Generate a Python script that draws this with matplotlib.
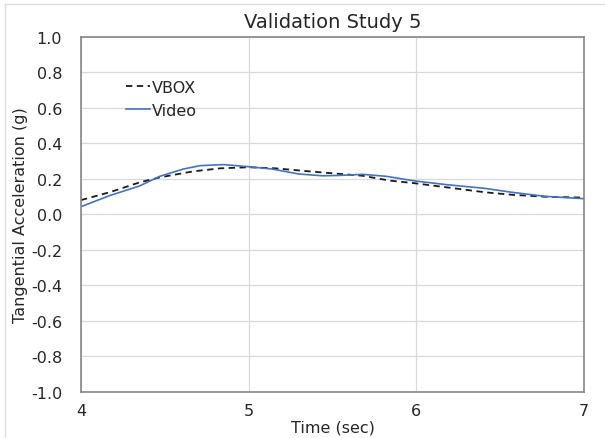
import matplotlib.pyplot as plt
from matplotlib.lines import Line2D

plt.rcParams["font.family"] = ["DejaVu Sans"]

# VBOX reference (dashed black)
vbox_t = [4.00, 4.17, 4.35, 4.47, 4.67, 4.83, 5.00, 5.16, 5.36, 5.54, 5.68, 5.84, 5.99, 6.18, 6.41, 6.57, 6.77, 7.00]
vbox_a = [0.080, 0.124, 0.180, 0.208, 0.242, 0.259, 0.265, 0.259, 0.242, 0.228, 0.217, 0.190, 0.175, 0.152, 0.124, 0.110, 0.099, 0.094]

# Video analysis (solid blue)
video_t = [4.00, 4.17, 4.35, 4.47, 4.61, 4.71, 4.85, 5.00, 5.14, 5.30, 5.44, 5.54, 5.68, 5.82, 5.99, 6.18, 6.41, 6.57, 6.77, 7.00]
video_a = [0.043, 0.105, 0.160, 0.214, 0.255, 0.274, 0.280, 0.268, 0.255, 0.227, 0.217, 0.219, 0.225, 0.214, 0.188, 0.167, 0.146, 0.124, 0.101, 0.088]

x_ticks = [4, 5, 6, 7]
y_ticks = [-1.0, -0.8, -0.6, -0.4, -0.2, 0.0, 0.2, 0.4, 0.6, 0.8, 1.0]

TEXT = "#262626"
GRID = "#D9D9D9"
SPINE = "#868686"

fig = plt.figure(figsize=(6.05, 4.39), dpi=100, facecolor="white")

# Chart area border: only top and left edges are visible (rest is cropped)
fig.add_artist(Line2D([5 / 605, 1.0], [1 - 5 / 439, 1 - 5 / 439], transform=fig.transFigure,
                      color="#DDDDDD", linewidth=1.0))
fig.add_artist(Line2D([5 / 605, 5 / 605], [0.0, 1 - 5 / 439], transform=fig.transFigure,
                      color="#DDDDDD", linewidth=1.0))

ax = fig.add_axes([81 / 605, 1 - 392.8 / 439, (584 - 81) / 605, (392.8 - 37.8) / 439])

ax.plot(vbox_t, vbox_a, color="#1a1a1a", linestyle=(0, (3.5, 2.5)), linewidth=1.3, label="VBOX")
ax.plot(video_t, video_a, color="#4472C4", linewidth=1.2, label="Video")

ax.set_xlim(4, 7)
ax.set_ylim(-1.0, 1.0)
ax.set_xticks(x_ticks)
ax.set_yticks(y_ticks)
ax.set_xticklabels([str(t) for t in x_ticks], fontsize=11.5, color=TEXT)
ax.set_yticklabels([f"{v:.1f}" for v in y_ticks], fontsize=11.5, color=TEXT)
ax.tick_params(axis="both", length=0)
ax.tick_params(axis="x", pad=8)
ax.tick_params(axis="y", pad=13.5)
ax.grid(True, color=GRID, linewidth=0.9)
ax.set_axisbelow(True)
for spine in ax.spines.values():
    spine.set_color(SPINE)
    spine.set_linewidth(1.2)

ax.set_title("Validation Study 5", fontsize=14, color=TEXT, pad=7)
ax.set_xlabel("Time (sec)", fontsize=11.5, color=TEXT, labelpad=1)
ax.set_ylabel("Tangential Acceleration (g)", fontsize=11.5, color=TEXT, labelpad=2)

leg = ax.legend(
    loc="upper left", bbox_to_anchor=(0.06, 0.92), frameon=False, fontsize=11.5,
    handlelength=1.5, handletextpad=0.15, labelspacing=0.5,
)
for text in leg.get_texts():
    text.set_color(TEXT)

fig.savefig("out.png", dpi=100, facecolor="white")
